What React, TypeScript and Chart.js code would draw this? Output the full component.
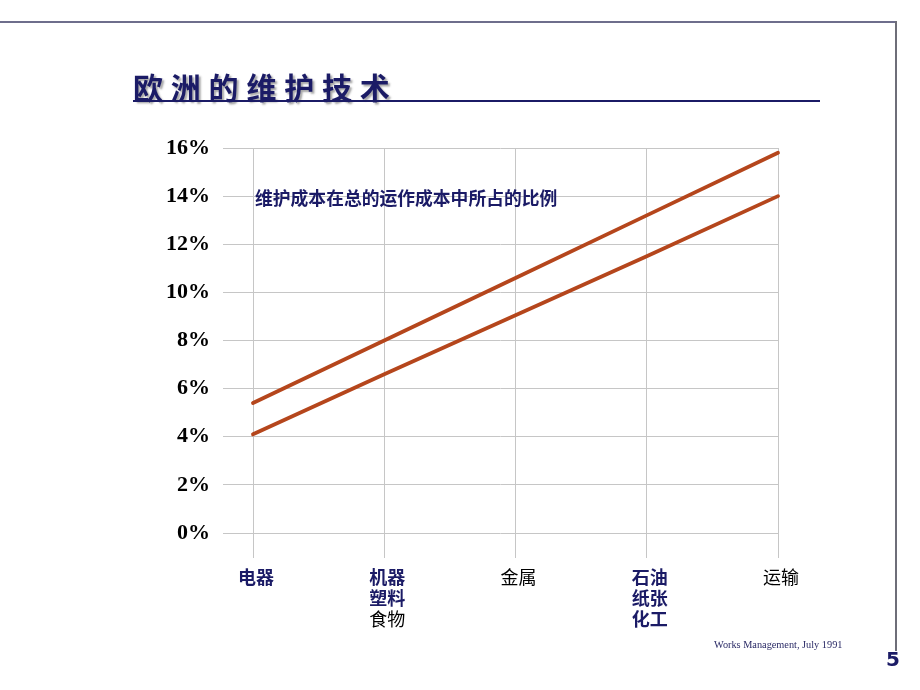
import React, { useEffect, useRef } from "react";
import { Chart, registerables } from "chart.js";

Chart.register(...registerables);

const categories: string[][] = [["电器"], ["机器", "塑料", "食物"], ["金属"], ["石油", "纸张", "化工"], ["运输"]];
const categoryBold: boolean[][] = [[true], [true, true, false], [false], [true, true, true], [false]];
const upperSeries = [5.4, 8.0, 10.6, 13.2, 15.8];
const lowerSeries = [4.1, 6.6, 9.05, 11.5, 14.0];
const yTicks = [0, 2, 4, 6, 8, 10, 12, 14, 16];

const NAVY = "#1b1b66";
const LINE = "#b5461c";
const GRID = "#c6c6c6";

const xLabelsPlugin = {
  id: "xLabels",
  afterDraw(chart: any) {
    const ctx = chart.ctx;
    const xs = chart.scales.x;
    ctx.save();
    ctx.textAlign = "center";
    ctx.textBaseline = "middle";
    categories.forEach((lines, i) => {
      const cx = xs.getPixelForValue(i) + 3;
      lines.forEach((t, j) => {
        const bold = categoryBold[i][j];
        ctx.font = (bold ? "bold " : "") + '18px "Noto Sans CJK SC", sans-serif';
        ctx.fillStyle = bold ? NAVY : "#000000";
        ctx.fillText(t, cx, 577 + j * 21);
      });
    });
    ctx.restore();
  },
};

export default function App() {
  const ref = useRef<HTMLCanvasElement>(null);
  useEffect(() => {
    if (!ref.current) return;
    const chart = new Chart(ref.current, {
      type: "line",
      data: {
        datasets: [
          {
            data: upperSeries.map((v, i) => ({ x: i, y: v })),
            borderColor: LINE,
            borderWidth: 3.8,
            pointRadius: 0,
            tension: 0,
            borderCapStyle: "round",
          },
          {
            data: lowerSeries.map((v, i) => ({ x: i, y: v })),
            borderColor: LINE,
            borderWidth: 3.8,
            pointRadius: 0,
            tension: 0,
            borderCapStyle: "round",
          },
        ],
      },
      options: {
        animation: false,
        responsive: false,
        devicePixelRatio: 1,
        clip: false as any,
        layout: { padding: { left: 0, top: 148, right: 142, bottom: 0 } },
        plugins: { legend: { display: false }, tooltip: { enabled: false }, title: { display: false } },
        scales: {
          x: {
            type: "linear",
            min: -0.2286,
            max: 4,
            afterBuildTicks: (s: any) => {
              s.ticks = [0, 1, 2, 3, 4].map((v) => ({ value: v }));
            },
            afterFit: (s: any) => {
              s.height = 157;
            },
            ticks: { display: false },
            grid: { color: GRID, lineWidth: 1, drawTicks: true, tickLength: 25 },
            border: { display: false },
          },
          y: {
            type: "linear",
            min: 0,
            max: 16,
            afterBuildTicks: (s: any) => {
              s.ticks = yTicks.map((v) => ({ value: v }));
            },
            afterFit: (s: any) => {
              s.width = 223;
            },
            ticks: {
              padding: 13,
              color: "#000000",
              font: { family: '"Liberation Serif", "Times New Roman", serif', size: 22, weight: "bold" },
              callback: (v: any) => v + "%",
            },
            grid: { color: GRID, lineWidth: 1, drawTicks: false },
            border: { display: false },
          },
        },
      } as any,
      plugins: [xLabelsPlugin],
    });
    return () => chart.destroy();
  }, []);

  const abs = (s: React.CSSProperties): React.CSSProperties => ({ position: "absolute", ...s });

  return (
    <div style={{ position: "absolute", left: 0, top: 0, width: 920, height: 690, background: "#ffffff", overflow: "hidden" }}>
      <canvas ref={ref} width={920} height={690} style={{ position: "absolute", left: 0, top: 0, width: 920, height: 690 }} />
      <div style={abs({ left: 0, top: 21, width: 897, height: 2, background: "#6e6e8c" })} />
      <div style={abs({ left: 895, top: 21, width: 2, height: 630, background: "#6e6e78" })} />
      <div
        style={abs({
          left: 133,
          top: 71,
          fontFamily: '"Noto Sans CJK SC", sans-serif',
          fontWeight: 700,
          fontSize: 30,
          lineHeight: "30px",
          letterSpacing: 7.8,
          color: NAVY,
          whiteSpace: "nowrap",
          textShadow: "2px 2px 2px rgba(60,60,60,0.45)",
        })}
      >
        欧洲的维护技术
      </div>
      <div style={abs({ left: 133, top: 100, width: 687, height: 2, background: NAVY })} />
      <div
        style={abs({
          left: 255,
          top: 188,
          fontFamily: '"Noto Sans CJK SC", sans-serif',
          fontWeight: 700,
          fontSize: 17.8,
          lineHeight: "18px",
          color: NAVY,
          whiteSpace: "nowrap",
        })}
      >
        维护成本在总的运作成本中所占的比例
      </div>
      <div
        style={abs({
          left: 714,
          top: 639,
          fontFamily: '"Liberation Serif", "Times New Roman", serif',
          fontSize: 10.3,
          lineHeight: "12px",
          color: "#2a2a66",
          whiteSpace: "nowrap",
        })}
      >
        Works Management, July 1991
      </div>
      <div
        style={abs({
          left: 886,
          top: 648,
          fontFamily: '"DejaVu Sans", sans-serif',
          fontWeight: 700,
          fontSize: 20,
          lineHeight: "22px",
          color: NAVY,
        })}
      >
        5
      </div>
    </div>
  );
}
